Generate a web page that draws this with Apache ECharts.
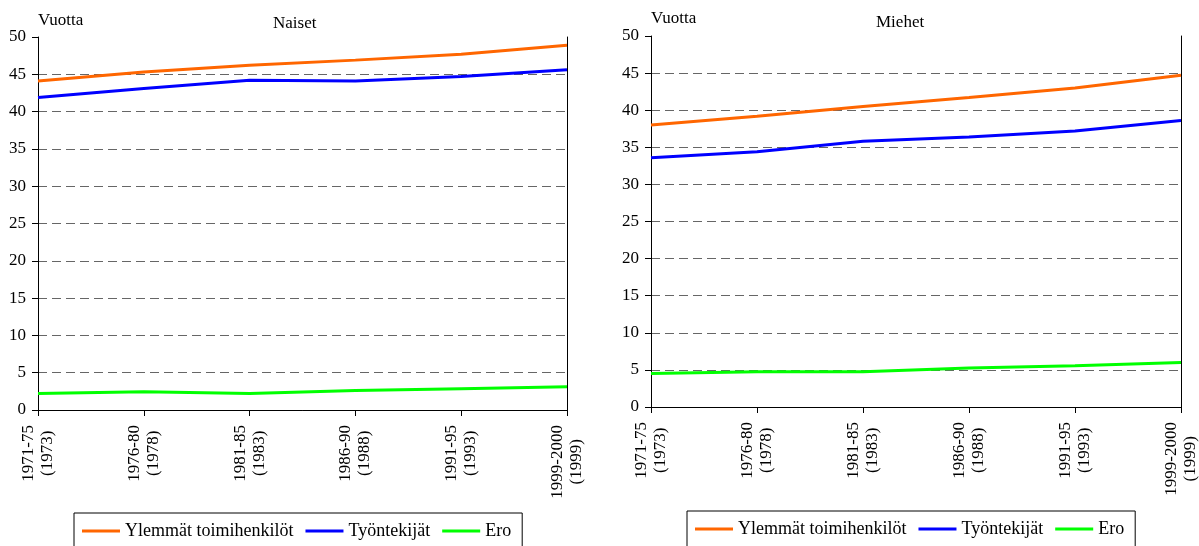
<!DOCTYPE html>
<html>
<head>
<meta charset="utf-8">
<title>Naiset / Miehet</title>
<script src="https://cdn.jsdelivr.net/npm/echarts@6/dist/echarts.min.js"></script>
<style>
  html, body { margin: 0; padding: 0; background: #fff; }
  #main { width: 1199px; height: 546px; }
</style>
</head>
<body>
<div id="main"></div>
<script>
var categories = ['1971-75\n(1973)', '1976-80\n(1978)', '1981-85\n(1983)', '1986-90\n(1988)', '1991-95\n(1993)', '1999-2000\n(1999)'];
var seriesNames = ['Ylemmät toimihenkilöt', 'Työntekijät', 'Ero'];

// Naiset
var naisetYlemmat = [44.1, 45.3, 46.2, 46.9, 47.7, 48.9];
var naisetTyontekijat = [41.9, 43.1, 44.2, 44.1, 44.7, 45.6];
var naisetEro = [2.2, 2.45, 2.2, 2.6, 2.85, 3.1];

// Miehet
var miehetYlemmat = [38.0, 39.2, 40.5, 41.7, 43.0, 44.7];
var miehetTyontekijat = [33.6, 34.4, 35.8, 36.4, 37.2, 38.6];
var miehetEro = [4.5, 4.75, 4.75, 5.25, 5.55, 6.0];

var colors = ['#ff6600', '#0000ff', '#00ff00'];
var font = '"Liberation Serif", "DejaVu Serif", serif';

var chart = echarts.init(document.getElementById('main'));

function bottomAxis(idx) {
    return {
        type: 'category',
        gridIndex: idx,
        data: categories,
        boundaryGap: false,
        axisLine: { lineStyle: { color: '#000', width: 1 } },
        axisTick: { show: true, length: 6, alignWithLabel: true, lineStyle: { color: '#000' } },
        axisLabel: {
            rotate: 90,
            margin: 15,
            interval: 0,
            color: '#000',
            fontFamily: font,
            fontSize: 17,
            formatter: function (v) {
                var p = v.split('\n');
                return '{a|' + p[0] + '}\n{a|' + p[1] + '}';
            },
            rich: {
                a: { align: 'center', fontFamily: font, fontSize: 17, color: '#000', lineHeight: 19 }
            }
        },
        splitLine: { show: false }
    };
}

function topAxis(idx) {
    return {
        type: 'category',
        gridIndex: idx,
        position: 'top',
        data: categories,
        boundaryGap: false,
        axisLine: { lineStyle: { color: '#000', width: 1 } },
        axisTick: { show: false },
        axisLabel: { show: false },
        splitLine: { show: false }
    };
}

function leftAxis(idx) {
    return {
        type: 'value',
        gridIndex: idx,
        min: 0,
        max: 50,
        interval: 5,
        axisLine: { show: true, lineStyle: { color: '#000', width: 1 } },
        axisTick: { show: true, length: 6, lineStyle: { color: '#000' } },
        axisLabel: { margin: 12, color: '#000', fontFamily: font, fontSize: 17 },
        splitLine: {
            show: true,
            showMinLine: false,
            showMaxLine: false,
            lineStyle: { color: '#666', type: [9, 5], width: 1 }
        }
    };
}

function rightAxis(idx) {
    return {
        type: 'value',
        gridIndex: idx,
        position: 'right',
        min: 0,
        max: 50,
        interval: 5,
        axisLine: { show: true, lineStyle: { color: '#000', width: 1 } },
        axisTick: { show: false },
        axisLabel: { show: false },
        splitLine: { show: false }
    };
}

function lineSeries(name, data, color, idx) {
    return {
        name: name,
        type: 'line',
        xAxisIndex: idx,
        yAxisIndex: idx,
        data: data,
        symbol: 'none',
        z: 5,
        lineStyle: { color: color, width: 3 },
        itemStyle: { color: color }
    };
}

function legendBox(left, top) {
    return {
        left: left,
        top: top,
        orient: 'horizontal',
        data: seriesNames,
        icon: 'rect',
        itemWidth: 38,
        itemHeight: 3,
        itemGap: 12,
        padding: [9, 11, 20, 8],
        borderColor: '#000',
        borderWidth: 1,
        selectedMode: false,
        textStyle: { color: '#000', fontFamily: font, fontSize: 18 }
    };
}

var titleStyle = { color: '#000', fontFamily: font, fontSize: 17, fontWeight: 'normal' };

var option = {
    animation: false,
    backgroundColor: '#fff',
    color: colors,
    title: [
        { text: 'Vuotta', left: 38, top: 12, padding: 0, textStyle: titleStyle },
        { text: 'Naiset', left: 273, top: 15, padding: 0, textStyle: titleStyle },
        { text: 'Vuotta', left: 651, top: 10, padding: 0, textStyle: titleStyle },
        { text: 'Miehet', left: 876, top: 14, padding: 0, textStyle: titleStyle }
    ],
    legend: [legendBox(74, 513), legendBox(687, 511)],
    grid: [
        { left: 38, top: 37, width: 529, height: 373 },
        { left: 651, top: 36, width: 532, height: 371 }
    ],
    xAxis: [bottomAxis(0), bottomAxis(1), topAxis(0), topAxis(1)],
    yAxis: [leftAxis(0), leftAxis(1), rightAxis(0), rightAxis(1)],
    series: [
        lineSeries(seriesNames[0], naisetYlemmat, colors[0], 0),
        lineSeries(seriesNames[1], naisetTyontekijat, colors[1], 0),
        lineSeries(seriesNames[2], naisetEro, colors[2], 0),
        lineSeries(seriesNames[0], miehetYlemmat, colors[0], 1),
        lineSeries(seriesNames[1], miehetTyontekijat, colors[1], 1),
        lineSeries(seriesNames[2], miehetEro, colors[2], 1)
    ]
};

chart.setOption(option);
</script>
</body>
</html>
